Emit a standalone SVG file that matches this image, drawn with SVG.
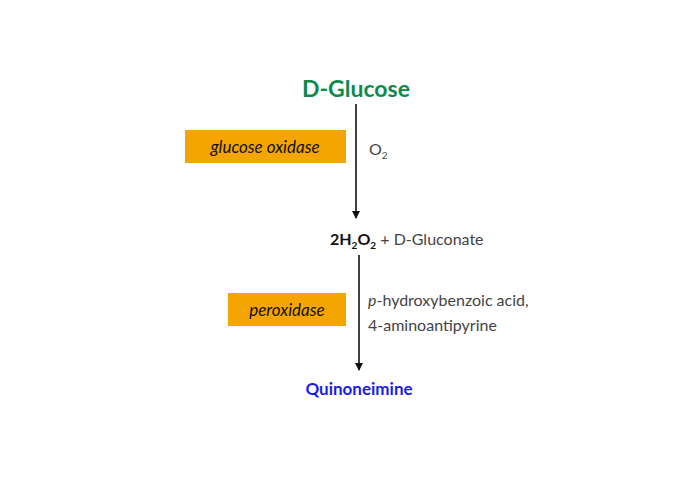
<svg xmlns="http://www.w3.org/2000/svg" width="690" height="480" viewBox="0 0 690 480">
<defs><marker id="ah" markerWidth="8" markerHeight="8" refX="7" refY="4" orient="auto" markerUnits="userSpaceOnUse"><path d="M0,0 L8,4 L0,8 Z" fill="#111"/></marker></defs>
<style>
text{font-family:Lato,"Open Sans",sans-serif}
.box{fill:#f5a500}
.en{font-style:italic;font-size:17px;fill:#111;text-anchor:middle}
.g{fill:#444;font-size:16px}
.ln{stroke:#111;stroke-width:1.6;fill:none;marker-end:url(#ah)}
</style>
<rect width="690" height="480" fill="#fff"/>
<g id="glucose"><text x="356" y="97" text-anchor="middle" font-size="23" font-weight="bold" fill="#0b8a4c">D-Glucose</text></g>
<g id="gox"><rect class="box" x="185" y="130" width="161" height="33"/><text class="en" x="265" y="153">glucose oxidase</text></g>
<g id="o2"><text class="g" x="369" y="155">O<tspan font-size="10" dy="4">2</tspan></text></g>
<g id="h2o2"><text x="330" y="245" font-size="16" fill="#111"><tspan font-weight="bold">2H<tspan font-size="10" dy="4">2</tspan><tspan dy="-4">O</tspan><tspan font-size="10" dy="4">2</tspan></tspan><tspan dy="-4" fill="#444"> + D-Gluconate</tspan></text></g>
<g id="pox"><rect class="box" x="228" y="293" width="118" height="33"/><text class="en" x="287" y="316">peroxidase</text></g>
<g id="reag"><text class="g" x="368" y="306"><tspan font-style="italic">p</tspan>-hydroxybenzoic acid,</text><text class="g" x="368" y="331">4-aminoantipyrine</text></g>
<g id="quin"><text x="359" y="395" text-anchor="middle" font-size="17" font-weight="bold" fill="#1a1aee">Quinoneimine</text></g>
<g id="connectors"><line class="ln" x1="356" y1="104" x2="356" y2="218"/><line class="ln" x1="359" y1="255" x2="359" y2="370"/></g>
</svg>
